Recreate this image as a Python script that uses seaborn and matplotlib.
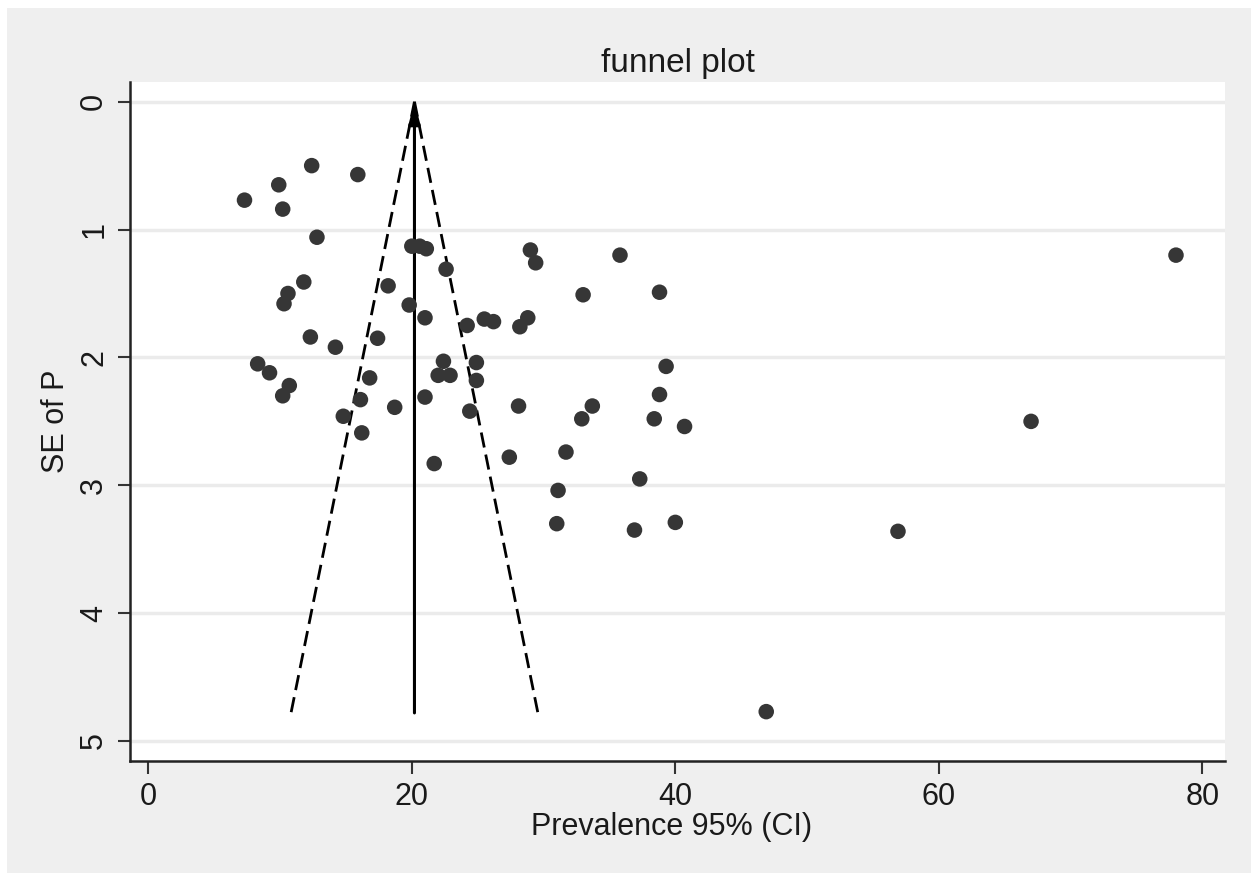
import matplotlib
matplotlib.use("Agg")
import matplotlib.pyplot as plt
from matplotlib.patches import Rectangle
import seaborn as sns
import pandas as pd
import numpy as np

# ---- data ----
prevalence = [7.3, 9.9, 12.4, 15.9, 10.2, 12.8, 20.0, 20.6, 21.1, 22.6,
              29.0, 29.4, 35.8, 78.0, 11.8, 18.2, 10.6, 10.3, 33.0, 38.8,
              19.8, 21.0, 24.2, 25.5, 26.2, 28.8, 28.2, 12.3, 14.2, 17.4,
              8.3, 9.2, 22.4, 24.9, 22.0, 22.9, 24.9, 10.7, 10.2, 16.8,
              16.1, 21.0, 18.7, 14.8, 24.4, 28.1, 33.7, 32.9, 16.2, 39.3,
              38.8, 38.4, 40.7, 67.0, 21.7, 27.4, 31.7, 37.3, 31.1, 31.0,
              36.9, 40.0, 56.9, 46.9]
se = [0.77, 0.65, 0.50, 0.57, 0.84, 1.06, 1.13, 1.13, 1.15, 1.31,
      1.16, 1.26, 1.20, 1.20, 1.41, 1.44, 1.50, 1.58, 1.51, 1.49,
      1.59, 1.69, 1.75, 1.70, 1.72, 1.69, 1.76, 1.84, 1.92, 1.85,
      2.05, 2.12, 2.03, 2.04, 2.14, 2.14, 2.18, 2.22, 2.30, 2.16,
      2.33, 2.31, 2.39, 2.46, 2.42, 2.38, 2.38, 2.48, 2.59, 2.07,
      2.29, 2.48, 2.54, 2.50, 2.83, 2.78, 2.74, 2.95, 3.04, 3.30,
      3.35, 3.29, 3.36, 4.77]
pooled = 20.2
se_max = 4.78
x_ticks = [0, 20, 40, 60, 80]
y_ticks = [0, 1, 2, 3, 4, 5]
title = "funnel plot"
x_label = "Prevalence 95% (CI)"
y_label = "SE of P"

df = pd.DataFrame({"prev": prevalence, "se": se})

plt.rcParams['font.family'] = ['Liberation Sans', 'DejaVu Sans']

W, H = 1251, 873
fig = plt.figure(figsize=(W / 100, H / 100), dpi=100)
fig.patch.set_facecolor('white')
fig.add_artist(Rectangle((7 / W, 0), 1, 1 - 8 / H, transform=fig.transFigure,
                         facecolor='#efefef', edgecolor='none', zorder=-10))

ax = fig.add_axes([130 / W, 1 - 761 / H, (1225 - 130) / W, (761 - 82) / H])
ax.set_facecolor('white')

# grid
for yv in y_ticks:
    ax.axhline(yv, color='#ebebeb', lw=2.5, zorder=0)

# funnel lines
ax.plot([pooled, pooled - 1.96 * se_max], [0, se_max], color='black', lw=2,
        ls=(0, (5.5, 2.6)), zorder=2)
ax.plot([pooled, pooled + 1.96 * se_max], [0, se_max], color='black', lw=2,
        ls=(0, (5.5, 2.6)), zorder=2)
ax.annotate('', xy=(pooled, 0), xytext=(pooled, se_max),
            arrowprops=dict(arrowstyle='-|>,head_length=0.65,head_width=0.17',
                            lw=2.2, color='black', mutation_scale=20,
                            shrinkA=0, shrinkB=0), zorder=3)

sns.scatterplot(data=df, x="prev", y="se", ax=ax, s=125, color='#363636',
                edgecolor='none', linewidth=0, zorder=4, legend=False)

ax.set_xlim(-1.39, 81.72)
ax.set_ylim(5.156, -0.154)
ax.set_xticks(x_ticks)
ax.set_yticks(y_ticks)
ax.set_xticklabels([str(v) for v in x_ticks], fontsize=22, color='#1a1a1a')
ax.set_yticklabels([str(v) for v in y_ticks], fontsize=22, color='#1a1a1a',
                   rotation=90, va='center')
ax.tick_params(axis='both', direction='out', length=9, width=1.5, color='#333333', pad=6)
for s in ['top', 'right']:
    ax.spines[s].set_visible(False)
for s in ['left', 'bottom']:
    ax.spines[s].set_color('#222222')
    ax.spines[s].set_linewidth(1.8)

ax.set_xlabel(x_label, fontsize=22, color='#1a1a1a', labelpad=0)
ax.xaxis.set_label_coords(0.495, -0.075)
ax.set_ylabel(y_label, fontsize=22, color='#1a1a1a', labelpad=6)
ax.set_title(title, fontsize=24, color='#1a1a1a', pad=7)

fig.savefig("out.png", dpi=100, facecolor=fig.get_facecolor())
